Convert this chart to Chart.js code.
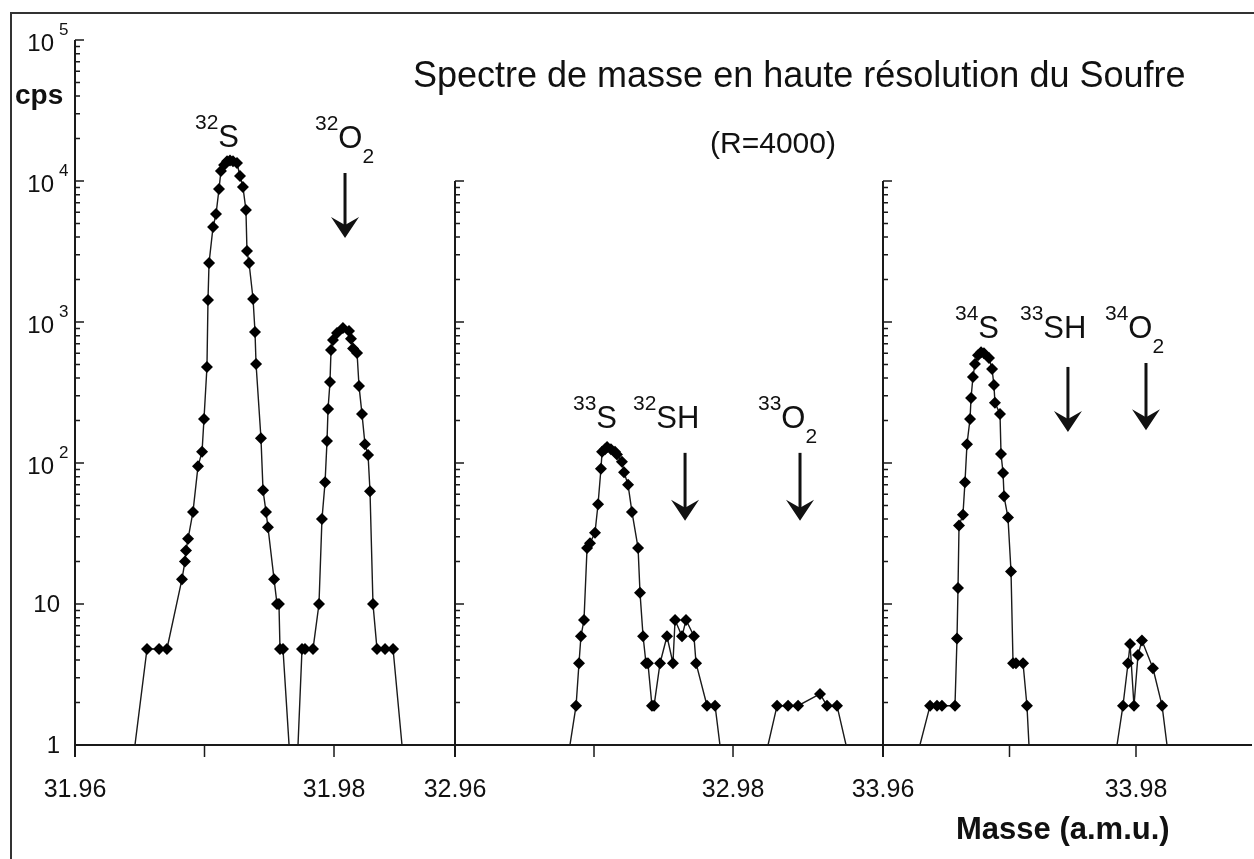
<!DOCTYPE html>
<html lang="fr">
<head>
<meta charset="utf-8">
<title>Spectre de masse du Soufre</title>
<script src="https://cdn.jsdelivr.net/npm/chart.js@4.4.1/dist/chart.umd.min.js"></script>
<style>
  html, body { margin: 0; padding: 0; background: #fff; }
  #fig {
    position: relative;
    width: 1254px;
    height: 859px;
    overflow: hidden;
    background: #fff;
    color: #111;
    font-family: "Liberation Sans", Arial, Helvetica, sans-serif;
  }
  #fig canvas { position: absolute; left: 0; top: 0; }
  .frame { position: absolute; background: #333; }
  .txt { position: absolute; white-space: nowrap; line-height: 1; }
  .title { font-size: 36px; }
  .res { font-size: 30px; transform: translateX(-50%); }
  .bold { font-weight: bold; }
  .iso { font-size: 31px; }
  .iso sup, .iso sub { font-size: 21px; line-height: 0; }
  .iso sup { vertical-align: 18px; }
  .iso sub { vertical-align: -15px; }
</style>
</head>
<body>
<div id="fig">
  <div class="frame" style="left:10px; top:12px; width:2px; height:847px;"></div>
  <div class="frame" style="left:10px; top:12px; width:1244px; height:2px;"></div>
  <canvas id="p1" width="1254" height="859"></canvas>
  <canvas id="p2" width="1254" height="859"></canvas>
  <canvas id="p3" width="1254" height="859"></canvas>

  <div class="txt title" style="left:413px; top:57px;">Spectre de masse en haute résolution du Soufre</div>
  <div class="txt res" style="left:773px; top:128px;">(R=4000)</div>
  <div class="txt bold" style="left:15px; top:81px; font-size:28px;">cps</div>
  <div class="txt bold" style="left:956px; top:813px; font-size:31px;">Masse (a.m.u.)</div>

  <div class="txt iso" style="left:195px; top:121px;"><sup>32</sup>S</div>
  <div class="txt iso" style="left:315px; top:122px;"><sup>32</sup>O<sub>2</sub></div>
  <div class="txt iso" style="left:573px; top:402px;"><sup>33</sup>S</div>
  <div class="txt iso" style="left:633px; top:402px;"><sup>32</sup>SH</div>
  <div class="txt iso" style="left:758px; top:402px;"><sup>33</sup>O<sub>2</sub></div>
  <div class="txt iso" style="left:955px; top:312px;"><sup>34</sup>S</div>
  <div class="txt iso" style="left:1020px; top:312px;"><sup>33</sup>SH</div>
  <div class="txt iso" style="left:1105px; top:312px;"><sup>34</sup>O<sub>2</sub></div>
</div>

<script>
// Spectre de masse du soufre, trois fenetres de masse (32, 33, 34)

const FONT = '"Liberation Sans", Arial, Helvetica, sans-serif';

// fenetre 1 : 32S et 32O2
const mass1 = [
  31.96000, 31.96463, 31.96556, 31.96649, 31.96710, 31.96826, 31.96849, 31.96857,
  31.96873, 31.96911, 31.96950, 31.96981, 31.96996, 31.97019, 31.97027, 31.97035,
  31.97066, 31.97089, 31.97112, 31.97127, 31.97151, 31.97174, 31.97197, 31.97220,
  31.97251, 31.97274, 31.97297, 31.97320, 31.97328, 31.97344, 31.97375, 31.97390,
  31.97398, 31.97436, 31.97452, 31.97475, 31.97490, 31.97537, 31.97560, 31.97575,
  31.97583, 31.97606, 31.97653, 31.97722, 31.97753, 31.97776, 31.97838, 31.97884,
  31.97907, 31.97931, 31.97946, 31.97954, 31.97969, 31.97977, 31.97992, 31.98023,
  31.98069, 31.98116, 31.98131, 31.98147, 31.98178, 31.98193, 31.98216, 31.98239,
  31.98263, 31.98278, 31.98301, 31.98332, 31.98394, 31.98456, 31.98525, 31.98726
];
const cps1 = [
  1, 1, 4.8, 4.8, 4.8, 15, 20, 24,
  29, 45, 95, 120, 205, 480, 1430, 2620,
  4720, 5830, 8780, 11760, 13000, 13800, 14000, 13800,
  13400, 10850, 9060, 6230, 3190, 2620, 1455, 850,
  504, 150, 64, 45, 35, 15, 10, 10,
  4.8, 4.8, 1, 1, 4.8, 4.8, 4.8, 10,
  40, 73, 143, 242, 375, 633, 745, 835,
  906, 865, 760, 648, 602, 352, 223, 136,
  114, 63, 10, 4.8, 4.8, 4.8, 1, 1
];

// fenetre 2 : 33S, 32SH et 33O2
const mass2 = [
  32.96000, 32.96827, 32.96871, 32.96892, 32.96906, 32.96928, 32.96950, 32.96971,
  32.97007, 32.97029, 32.97050, 32.97058, 32.97079, 32.97094, 32.97122, 32.97151,
  32.97165, 32.97201, 32.97216, 32.97245, 32.97273, 32.97317, 32.97331, 32.97353,
  32.97374, 32.97388, 32.97417, 32.97432, 32.97475, 32.97525, 32.97568, 32.97583,
  32.97633, 32.97662, 32.97719, 32.97734, 32.97813, 32.97871, 32.97906, 32.98252,
  32.98317, 32.98396, 32.98468, 32.98626, 32.98676, 32.98748, 32.98813
];
const cps2 = [
  1, 1, 1.9, 3.8, 5.9, 7.7, 25, 27,
  32, 51, 91, 120, 125, 130, 125, 120,
  115, 102, 86, 70, 45, 25, 12, 5.9,
  3.8, 3.8, 1.9, 1.9, 3.8, 5.9, 3.8, 7.7,
  5.9, 7.7, 5.9, 3.8, 1.9, 1.9, 1, 1,
  1.9, 1.9, 1.9, 2.3, 1.9, 1.9, 1
];

// fenetre 3 : 34S, 33SH et 34O2
const mass3 = [
  33.96000, 33.96292, 33.96372, 33.96427, 33.96466, 33.96569, 33.96585, 33.96593,
  33.96601, 33.96632, 33.96648, 33.96664, 33.96688, 33.96696, 33.96711, 33.96727,
  33.96751, 33.96775, 33.96798, 33.96838, 33.96862, 33.96877, 33.96885, 33.96925,
  33.96933, 33.96949, 33.96957, 33.96988, 33.97012, 33.97028, 33.97051, 33.97107,
  33.97138, 33.97154, 33.97850, 33.97897, 33.97937, 33.97953, 33.97984, 33.98016,
  33.98047, 33.98134, 33.98206, 33.98245, 33.98901
];
const cps3 = [
  1, 1, 1.9, 1.9, 1.9, 1.9, 5.7, 13,
  36, 43, 73, 136, 205, 289, 407, 504,
  580, 610, 600, 555, 464, 357, 267, 223,
  116, 85, 58, 41, 17, 3.8, 3.8, 3.8,
  1.9, 1, 1, 1.9, 3.8, 5.2, 1.9, 4.35,
  5.5, 3.5, 1.9, 1, 1
];

// graduations
const xTicks1 = [31.96, 31.97, 31.98];
const xLabels1 = ["31.96", "", "31.98"];
const xTicks2 = [32.96, 32.97, 32.98];
const xLabels2 = ["32.96", "", "32.98"];
const xTicks3 = [33.96, 33.97, 33.98];
const xLabels3 = ["33.96", "", "33.98"];
const yTicks = [1, 10, 100, 1000, 10000, 100000];
const yBases = ["1", "10", "10", "10", "10", "10"];
const yExps = ["", "", "2", "3", "4", "5"];
const minorSteps = [2, 3, 4, 5, 6, 7, 8, 9];

// fleches (masse, cps haut, cps pointe)
const arrowMass1 = [31.98085];
const arrowFrom1 = [11400];
const arrowTo1 = [3940];
const arrowMass2 = [32.97655, 32.98482];
const arrowFrom2 = [118, 118];
const arrowTo2 = [39, 39];
const arrowMass3 = [33.97462, 33.98079];
const arrowFrom3 = [480, 512];
const arrowTo3 = [166, 171];

const BASE = 745; // pixel du niveau 1 cps

Chart.defaults.font.family = FONT;
Chart.defaults.color = "#111";

const panels = [
  { id: "p1", mass: mass1, cps: cps1, xMin: 31.96, xMax: 31.98942, yMax: 1e5,
    left: 75, right: 456, top: 40, xTicks: xTicks1, xLabels: xLabels1, showY: true,
    arrowMass: arrowMass1, arrowFrom: arrowFrom1, arrowTo: arrowTo1 },
  { id: "p2", mass: mass2, cps: cps2, xMin: 32.96, xMax: 32.99079, yMax: 1e4,
    left: 455, right: 883, top: 181, xTicks: xTicks2, xLabels: xLabels2, showY: false,
    arrowMass: arrowMass2, arrowFrom: arrowFrom2, arrowTo: arrowTo2 },
  { id: "p3", mass: mass3, cps: cps3, xMin: 33.96, xMax: 33.98917, yMax: 1e4,
    left: 883, right: 1252, top: 181, xTicks: xTicks3, xLabels: xLabels3, showY: false,
    arrowMass: arrowMass3, arrowFrom: arrowFrom3, arrowTo: arrowTo3 }
];

// axes, graduations log vers l'interieur, etiquettes en puissances de 10, fleches
function makeAxesPlugin(p) {
  return {
    id: "panelAxes",
    beforeDatasetsDraw(chart) {
      const { ctx, chartArea: a, scales: { x, y } } = chart;
      ctx.save();
      ctx.strokeStyle = "#1a1a1a";
      ctx.lineWidth = 2;
      ctx.beginPath();
      ctx.moveTo(a.left, a.top);
      ctx.lineTo(a.left, a.bottom + 12);
      ctx.moveTo(a.left, a.bottom);
      ctx.lineTo(a.right, a.bottom);
      ctx.stroke();

      ctx.lineWidth = 1.5;
      ctx.beginPath();
      for (let dec = 1; dec <= p.yMax; dec *= 10) {
        [1].concat(minorSteps).forEach((k) => {
          const v = k * dec;
          if (v > p.yMax) return;
          const py = y.getPixelForValue(v);
          ctx.moveTo(a.left, py);
          ctx.lineTo(a.left + (k === 1 ? 9 : 5), py);
        });
      }
      p.xTicks.forEach((v) => {
        const px = x.getPixelForValue(v);
        ctx.moveTo(px, a.bottom);
        ctx.lineTo(px, a.bottom + 12);
      });
      ctx.stroke();
      ctx.restore();
    },
    afterDatasetsDraw(chart) {
      const { ctx, scales: { x, y } } = chart;
      ctx.save();
      ctx.strokeStyle = "#111";
      ctx.fillStyle = "#111";
      p.arrowMass.forEach((m, i) => {
        const px = x.getPixelForValue(m);
        const y0 = y.getPixelForValue(p.arrowFrom[i]);
        const y1 = y.getPixelForValue(p.arrowTo[i]);
        ctx.lineWidth = 3;
        ctx.beginPath();
        ctx.moveTo(px, y0);
        ctx.lineTo(px, y1 - 10);
        ctx.stroke();
        ctx.beginPath();
        ctx.moveTo(px, y1);
        ctx.lineTo(px - 14, y1 - 21);
        ctx.lineTo(px, y1 - 13);
        ctx.lineTo(px + 14, y1 - 21);
        ctx.closePath();
        ctx.fill();
      });
      ctx.restore();
    },
    afterDraw(chart) {
      if (!p.showY) return;
      const { ctx, chartArea: a, scales: { y } } = chart;
      ctx.save();
      ctx.fillStyle = "#111";
      ctx.textBaseline = "middle";
      y.ticks.forEach((t, i) => {
        const py = y.getPixelForValue(t.value);
        ctx.font = "24px " + FONT;
        ctx.textAlign = "right";
        if (yExps[i]) {
          ctx.fillText(yBases[i], a.left - 21, py + 4);
          ctx.font = "17px " + FONT;
          ctx.textAlign = "left";
          ctx.fillText(yExps[i], a.left - 16, py - 10);
        } else {
          ctx.fillText(yBases[i], a.left - 15, py + 1);
        }
      });
      ctx.restore();
    }
  };
}

function buildPanel(p) {
  const points = p.mass.map((m, i) => ({ x: m, y: p.cps[i] }));
  // la boite de l'axe y occupe la marge gauche du panneau 1, sinon largeur nulle
  const yBoxWidth = p.showY ? p.left : 0;
  return new Chart(document.getElementById(p.id), {
    type: "line",
    data: {
      datasets: [{
        data: points,
        borderColor: "#1a1a1a",
        borderWidth: 1.4,
        tension: 0,
        fill: false,
        pointStyle: "rectRot",
        pointRadius: (c) => (c.raw && c.raw.y > 1 ? 6 : 0),
        pointBackgroundColor: "#000",
        pointBorderColor: "#000",
        pointBorderWidth: 0
      }]
    },
    options: {
      responsive: false,
      animation: false,
      events: [],
      layout: {
        padding: { left: p.left - yBoxWidth, right: 1254 - p.right, top: p.top, bottom: 0 }
      },
      plugins: {
        legend: { display: false },
        tooltip: { enabled: false }
      },
      scales: {
        x: {
          type: "linear",
          min: p.xMin,
          max: p.xMax,
          afterFit: (s) => { s.height = 859 - BASE; },
          afterBuildTicks: (s) => { s.ticks = p.xTicks.map((v) => ({ value: v })); },
          grid: { display: false },
          border: { display: false },
          ticks: {
            callback: (v, i) => p.xLabels[i],
            font: { size: 25 },
            color: "#111",
            padding: 22,
            maxRotation: 0,
            autoSkip: false
          }
        },
        y: {
          type: "logarithmic",
          min: 1,
          max: p.yMax,
          afterFit: (s) => { s.width = yBoxWidth; },
          afterBuildTicks: (s) => {
            s.ticks = yTicks.filter((v) => v <= p.yMax).map((v) => ({ value: v }));
          },
          grid: { display: false },
          border: { display: false },
          ticks: { display: false }
        }
      }
    },
    plugins: [makeAxesPlugin(p)]
  });
}

panels.forEach(buildPanel);
</script>
</body>
</html>
